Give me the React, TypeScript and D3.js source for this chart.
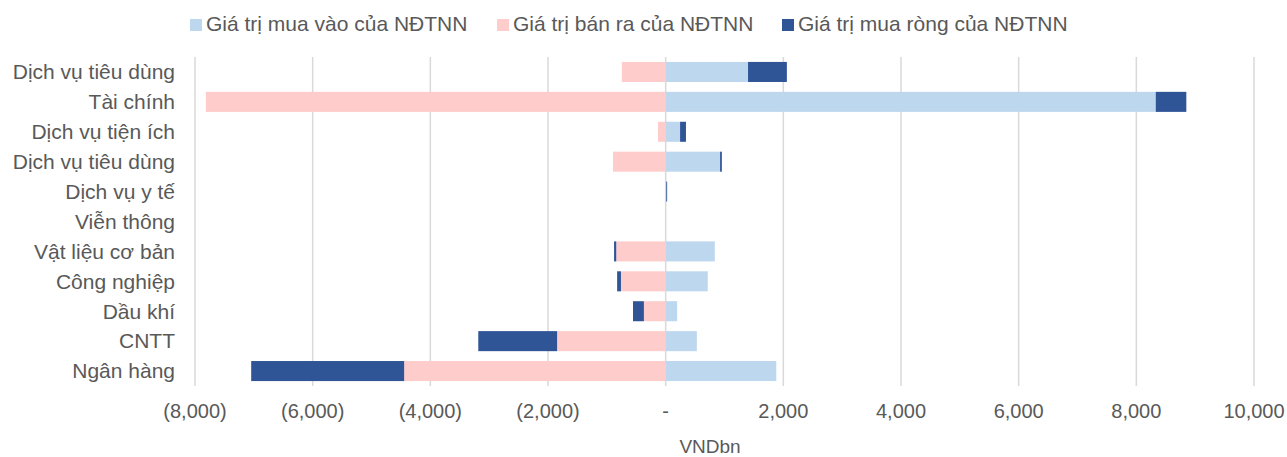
import { useEffect, useRef } from 'react';
import * as d3 from 'd3';

// sector names, top to bottom
const categories = [
  'Dịch vụ tiêu dùng',
  'Tài chính',
  'Dịch vụ tiện ích',
  'Dịch vụ tiêu dùng',
  'Dịch vụ y tế',
  'Viễn thông',
  'Vật liệu cơ bản',
  'Công nghiệp',
  'Dầu khí',
  'CNTT',
  'Ngân hàng',
];

// VND bn
const buyValues = [1400, 8330, 245, 925, 10, 5, 835, 715, 195, 530, 1880];
const sellValues = [-745, -7815, -130, -895, -5, -5, -840, -760, -370, -1845, -4445];
const netValues = [660, 520, 100, 30, 15, 0, -37, -65, -185, -1340, -2600];

const seriesNames = ['Giá trị mua vào của NĐTNN', 'Giá trị bán ra của NĐTNN', 'Giá trị mua ròng của NĐTNN'];
const seriesColors = ['#BDD7EE', '#FFCCCC', '#2F5597'];
const xTicks = [-8000, -6000, -4000, -2000, 0, 2000, 4000, 6000, 8000, 10000];

export default function App() {
  const svgRef = useRef<SVGSVGElement>(null);

  useEffect(() => {
    if (!svgRef.current) return;
    const svg = d3.select(svgRef.current);
    svg.selectAll('*').remove();

    const width = 1287;
    const height = 457;
    const font = 'Arial, "Liberation Sans", sans-serif';
    const textColor = '#595959';

    const x = d3.scaleLinear().domain([-8000, 10000]).range([195, 1254]);
    const y = d3
      .scaleBand<number>()
      .domain(categories.map((_, i) => i))
      .range([57, 386])
      .paddingInner(0.33)
      .paddingOuter(0.165);

    const rows = categories.map((c, i) => ({
      i,
      buy: buyValues[i],
      sell: sellValues[i],
      net: netValues[i],
    }));
    const stacked = d3
      .stack<any>()
      .keys(['buy', 'sell', 'net'])
      .offset(d3.stackOffsetDiverging)(rows);

    // gridlines
    svg
      .append('g')
      .selectAll('line')
      .data(xTicks)
      .join('line')
      .attr('x1', (d) => x(d))
      .attr('x2', (d) => x(d))
      .attr('y1', 57)
      .attr('y2', 386)
      .attr('stroke', '#D9D9D9')
      .attr('stroke-width', 1.5);

    // bars
    svg
      .append('g')
      .selectAll('g')
      .data(stacked)
      .join('g')
      .attr('fill', (_, k) => seriesColors[k])
      .selectAll('rect')
      .data((s) => s)
      .join('rect')
      .attr('x', (d) => x(Math.min(d[0], d[1])))
      .attr('width', (d) => Math.abs(x(d[1]) - x(d[0])))
      .attr('y', (d) => y(d.data.i)!)
      .attr('height', y.bandwidth());

    // category labels
    svg
      .append('g')
      .selectAll('text')
      .data(categories)
      .join('text')
      .attr('x', 175)
      .attr('y', (_, i) => y(i)! + y.bandwidth() / 2)
      .attr('dy', '0.35em')
      .attr('text-anchor', 'end')
      .attr('font-family', font)
      .attr('font-size', 21)
      .attr('fill', textColor)
      .text((d) => d);

    // x tick labels
    const fmt = d3.format(',');
    svg
      .append('g')
      .selectAll('text')
      .data(xTicks)
      .join('text')
      .attr('x', (d) => x(d))
      .attr('y', 411)
      .attr('dy', '0.35em')
      .attr('text-anchor', 'middle')
      .attr('font-family', font)
      .attr('font-size', 20)
      .attr('fill', textColor)
      .text((d) => (d === 0 ? '-' : d < 0 ? `(${fmt(-d)})` : fmt(d)));

    svg
      .append('text')
      .attr('x', 710)
      .attr('y', 446)
      .attr('dy', '0.35em')
      .attr('text-anchor', 'middle')
      .attr('font-family', font)
      .attr('font-size', 19)
      .attr('fill', textColor)
      .text('VNDbn');

    // legend
    const legendX = [190, 497, 782];
    const legend = svg
      .append('g')
      .selectAll('g')
      .data(seriesNames)
      .join('g')
      .attr('transform', (_, k) => `translate(${legendX[k]}, 24)`);
    legend
      .append('rect')
      .attr('x', 0)
      .attr('y', -5)
      .attr('width', 12)
      .attr('height', 12)
      .attr('fill', (_, k) => seriesColors[k]);
    legend
      .append('text')
      .attr('x', 16)
      .attr('dy', '0.35em')
      .attr('font-family', font)
      .attr('font-size', 21)
      .attr('fill', textColor)
      .text((d) => d);

    svg.attr('width', width).attr('height', height);
  }, []);

  return (
    <svg
      ref={svgRef}
      style={{ display: 'block', position: 'absolute', left: 0, top: 0 }}
    ></svg>
  );
}
